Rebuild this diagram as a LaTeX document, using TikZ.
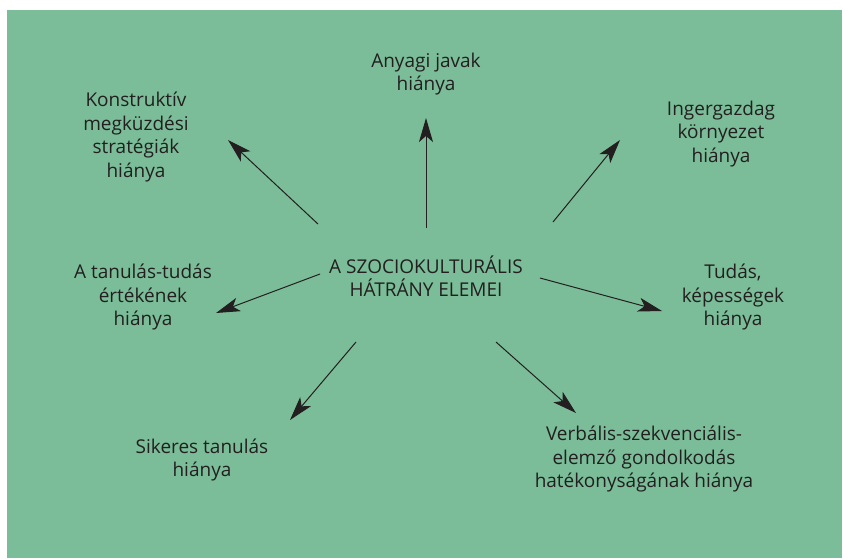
\documentclass[tikz,border=0pt]{standalone}
\usepackage{fontspec}
\setmainfont{Open Sans}
\usetikzlibrary{arrows.meta}
\definecolor{panel}{RGB}{122,189,152}
\definecolor{ink}{RGB}{35,31,32}
\begin{document}
\begin{tikzpicture}[x=1pt,y=-1pt,
  lbl/.style={align=center,text=ink,font=\fontsize{19}{23.5}\selectfont,inner sep=0pt},
  spoke/.style={draw=ink,line width=1pt,-{Stealth[length=24pt,width=14pt,inset=6pt]}}]
  \useasboundingbox (0,0) rectangle (843,558);
  \fill[panel] (7,10) rectangle (842,558);

  % central concept
  \node[lbl] (core) at (426,276) {A SZOCIOKULTURÁLIS\\HÁTRÁNY ELEMEI};

  % surrounding elements
  \node[lbl] (top)  at (426,74)  {Anyagi javak\\hiánya};
  \node[lbl] (tl)   at (136,137) {Konstruktív\\megküzdési\\stratégiák\\hiánya};
  \node[lbl] (tr)   at (721,134) {Ingergazdag\\környezet\\hiánya};
  \node[lbl] (left) at (143,297) {A tanulás-tudás\\értékének\\hiánya};
  \node[lbl] (right) at (733,297) {Tudás,\\képességek\\hiánya};
  \node[lbl] (bl)   at (202,460) {Sikeres tanulás\\hiánya};
  \node[lbl] (br)   at (644,459) {Verbális-szekvenciális-\\elemző gondolkodás\\hatékonyságának hiánya};

  % spoke start and tip points
  \coordinate (s1) at (426,228); \coordinate (e1) at (426,118);
  \coordinate (s2) at (318,224); \coordinate (e2) at (228,140);
  \coordinate (s3) at (553,222); \coordinate (e3) at (620,140);
  \coordinate (s4) at (320,274); \coordinate (e4) at (216,313);
  \coordinate (s5) at (540,278); \coordinate (e5) at (662,311);
  \coordinate (s6) at (356,342); \coordinate (e6) at (290,420);
  \coordinate (s7) at (496,342); \coordinate (e7) at (576,413);

  \foreach \i in {1,...,7} \draw[spoke] (s\i) -- (e\i);
\end{tikzpicture}
\end{document}
